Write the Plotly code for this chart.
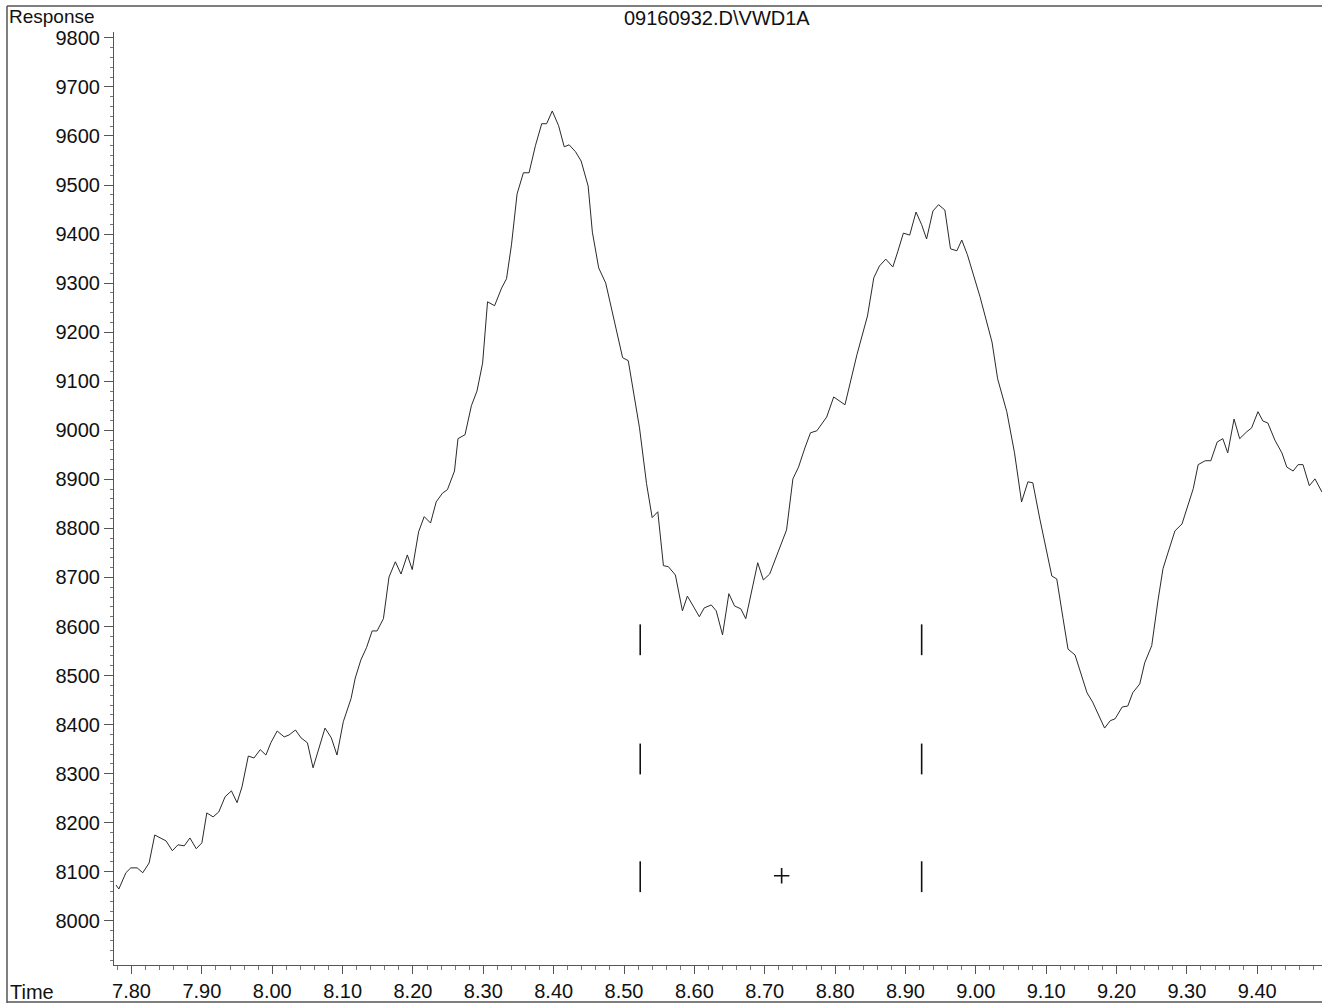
import plotly.graph_objects as go

# Chromatogram trace (time in min, detector response)
time = [7.778, 7.782, 7.792, 7.799, 7.808, 7.816, 7.825, 7.833, 7.849, 7.858,
        7.866, 7.875, 7.883, 7.892, 7.900, 7.907, 7.916, 7.924, 7.933, 7.942,
        7.950, 7.957, 7.966, 7.974, 7.983, 7.991, 7.998, 8.007, 8.017, 8.024,
        8.033, 8.041, 8.050, 8.058, 8.075, 8.084, 8.092, 8.101, 8.112, 8.118,
        8.126, 8.134, 8.142, 8.149, 8.158, 8.166, 8.175, 8.183, 8.192, 8.199,
        8.208, 8.216, 8.225, 8.233, 8.242, 8.249, 8.259, 8.264, 8.274, 8.283,
        8.291, 8.299, 8.306, 8.316, 8.326, 8.333, 8.340, 8.348, 8.357, 8.365,
        8.374, 8.383, 8.390, 8.398, 8.407, 8.415, 8.422, 8.431, 8.439, 8.444,
        8.449, 8.455, 8.464, 8.474, 8.484, 8.498, 8.506, 8.522, 8.532, 8.540,
        8.548, 8.556, 8.563, 8.573, 8.583, 8.590, 8.599, 8.607, 8.614, 8.624,
        8.631, 8.640, 8.649, 8.657, 8.666, 8.673, 8.690, 8.698, 8.707, 8.724,
        8.731, 8.740, 8.748, 8.757, 8.765, 8.774, 8.788, 8.798, 8.814, 8.831,
        8.846, 8.855, 8.863, 8.872, 8.882, 8.889, 8.897, 8.906, 8.915, 8.923,
        8.930, 8.939, 8.947, 8.956, 8.964, 8.973, 8.980, 8.988, 9.006, 9.023,
        9.031, 9.044, 9.055, 9.065, 9.074, 9.081, 9.091, 9.108, 9.115, 9.124,
        9.131, 9.141, 9.158, 9.166, 9.183, 9.191, 9.198, 9.208, 9.216, 9.223,
        9.233, 9.240, 9.250, 9.259, 9.266, 9.273, 9.283, 9.293, 9.301, 9.309,
        9.316, 9.326, 9.334, 9.343, 9.351, 9.358, 9.367, 9.375, 9.385, 9.392,
        9.401, 9.408, 9.415, 9.425, 9.435, 9.442, 9.451, 9.458, 9.465, 9.474,
        9.482, 9.492]
response = [8073, 8065, 8098, 8108, 8108, 8098, 8118, 8175, 8163, 8143,
            8155, 8153, 8169, 8147, 8159, 8220, 8212, 8222, 8253, 8265,
            8241, 8273, 8336, 8332, 8349, 8338, 8363, 8387, 8375, 8379,
            8389, 8373, 8363, 8312, 8393, 8373, 8338, 8406, 8453, 8495,
            8532, 8557, 8591, 8591, 8616, 8701, 8732, 8707, 8746, 8716,
            8793, 8824, 8811, 8854, 8872, 8879, 8917, 8983, 8991, 9050,
            9080, 9137, 9262, 9254, 9290, 9309, 9378, 9482, 9525, 9525,
            9580, 9625, 9625, 9651, 9621, 9578, 9582, 9568, 9549, 9525,
            9498, 9404, 9331, 9300, 9237, 9148, 9142, 9005, 8891, 8822,
            8834, 8724, 8722, 8705, 8632, 8662, 8640, 8620, 8638, 8644,
            8632, 8583, 8667, 8642, 8636, 8616, 8730, 8695, 8707, 8771,
            8797, 8901, 8925, 8964, 8995, 8999, 9027, 9068, 9052, 9154,
            9233, 9311, 9335, 9349, 9333, 9364, 9402, 9398, 9445, 9419,
            9390, 9447, 9460, 9449, 9370, 9366, 9388, 9358, 9272, 9180,
            9105, 9038, 8954, 8854, 8895, 8893, 8819, 8703, 8697, 8616,
            8554, 8542, 8465, 8446, 8393, 8408, 8412, 8436, 8438, 8465,
            8483, 8526, 8561, 8654, 8718, 8750, 8795, 8809, 8844, 8881,
            8930, 8938, 8938, 8976, 8983, 8954, 9023, 8983, 8997, 9005,
            9038, 9019, 9015, 8980, 8954, 8925, 8917, 8930, 8930, 8887,
            8901, 8874]

# Integration event marks
event_times = [8.523, 8.923]
event_levels = [8573, 8330, 8090]
plus_time = [8.724]
plus_level = [8092]

x_tickvals = [7.8, 7.9, 8.0, 8.1, 8.2, 8.3, 8.4, 8.5, 8.6, 8.7, 8.8, 8.9, 9.0, 9.1, 9.2, 9.3, 9.4]
x_ticktext = ["7.80", "7.90", "8.00", "8.10", "8.20", "8.30", "8.40", "8.50", "8.60",
              "8.70", "8.80", "8.90", "9.00", "9.10", "9.20", "9.30", "9.40"]
y_tickvals = [8000, 8100, 8200, 8300, 8400, 8500, 8600, 8700, 8800, 8900,
              9000, 9100, 9200, 9300, 9400, 9500, 9600, 9700, 9800]
y_ticktext = ["8000", "8100", "8200", "8300", "8400", "8500", "8600", "8700", "8800", "8900",
              "9000", "9100", "9200", "9300", "9400", "9500", "9600", "9700", "9800"]

FONT = "Liberation Sans, Arial, sans-serif"
FS = 20
W, H = 1322, 1004
ML, MR, MT, MB = 114, 0, 32, 39

fig = go.Figure()
fig.add_trace(go.Scatter(x=time, y=response, mode="lines",
                         line=dict(color="#2a2a2a", width=1), hoverinfo="skip"))

ev_x = [t for t in event_times for _ in event_levels]
ev_y = [v for _ in event_times for v in event_levels]
fig.add_trace(go.Scatter(x=ev_x, y=ev_y, mode="markers",
                         marker=dict(symbol="line-ns", size=22,
                                     line=dict(color="#111", width=1.6)),
                         hoverinfo="skip"))
fig.add_trace(go.Scatter(x=plus_time, y=plus_level, mode="markers",
                         marker=dict(symbol="cross-thin", size=11,
                                     line=dict(color="#111", width=1.6)),
                         hoverinfo="skip"))

fig.update_layout(
    width=W, height=H, autosize=False,
    margin=dict(l=ML, r=MR, t=MT, b=MB, pad=0),
    paper_bgcolor="white", plot_bgcolor="white",
    showlegend=False,
    font=dict(family=FONT, size=FS, color="#111"),
)
fig.update_xaxes(
    range=[7.7751, 9.4920], showgrid=False, zeroline=False,
    showline=True, linecolor="#555", linewidth=1,
    tickmode="array", tickvals=x_tickvals, ticktext=x_ticktext,
    ticks="outside", ticklen=8, tickcolor="#555", tickwidth=1,
    minor=dict(dtick=0.02, tick0=7.8, ticks="outside", ticklen=4, tickcolor="#777", tickwidth=1),
    tickfont=dict(family=FONT, size=FS, color="#111"),
)
fig.update_yaxes(
    range=[7910, 9812], showgrid=False, zeroline=False,
    showline=True, linecolor="#555", linewidth=1,
    tickmode="array", tickvals=y_tickvals, ticktext=y_ticktext,
    ticks="outside", ticklen=9, tickcolor="#555", tickwidth=1,
    minor=dict(dtick=20, tick0=8000, ticks="outside", ticklen=3, tickcolor="#777", tickwidth=1),
    tickfont=dict(family=FONT, size=FS, color="#111"),
)

pw, ph = W - ML - MR, H - MT - MB
def px(x):
    return (x - ML) / pw
def py(y):
    return (H - MB - y) / ph

# outer frame
fig.add_shape(type="line", xref="paper", yref="paper", x0=px(7), x1=px(1322), y0=py(6), y1=py(6),
              line=dict(color="#555", width=1.5))
fig.add_shape(type="line", xref="paper", yref="paper", x0=px(7), x1=px(7), y0=py(6), y1=py(1003),
              line=dict(color="#555", width=1.5))
fig.add_shape(type="line", xref="paper", yref="paper", x0=px(7), x1=px(1322), y0=py(1002), y1=py(1002),
              line=dict(color="#555", width=1.5))

fig.add_annotation(text="Response", xref="paper", yref="paper", x=px(7), y=py(16),
                   xanchor="left", yanchor="middle", showarrow=False,
                   font=dict(family=FONT, size=19, color="#111"))
fig.add_annotation(text="Time", xref="paper", yref="paper", x=px(8), y=py(992),
                   xanchor="left", yanchor="middle", showarrow=False,
                   font=dict(family=FONT, size=FS, color="#111"))
fig.add_annotation(text="09160932.D\\VWD1A", xref="paper", yref="paper", x=px(717), y=py(18),
                   xanchor="center", yanchor="middle", showarrow=False,
                   font=dict(family=FONT, size=FS, color="#111"))

fig.write_html("out.html")
